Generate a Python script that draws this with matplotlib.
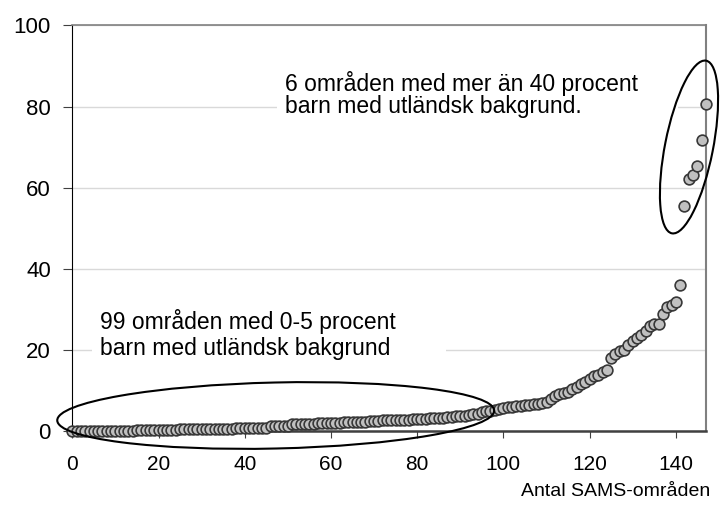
import numpy as np
import matplotlib
matplotlib.use('Agg')
from matplotlib import pyplot as plt
from matplotlib.patches import Ellipse, Rectangle
from matplotlib.transforms import IdentityTransform

# Andel barn med utländsk bakgrund per SAMS-område, sorterat stigande
low_areas = [0.0] * 15 + \
    [0.1, 0.1, 0.1, 0.1, 0.2, 0.2, 0.2, 0.2, 0.2, 0.2, 0.3, 0.3, 0.3, 0.3, 0.3, 0.3] + \
    [0.3, 0.4, 0.4, 0.4, 0.4, 0.4, 0.4, 0.5, 0.5, 0.5, 0.5, 0.5, 0.5, 0.6, 0.6] + \
    [1.0, 1.0, 1.1, 1.1, 1.1] + \
    [1.6, 1.6, 1.7, 1.7, 1.7, 1.7, 1.8, 1.8, 1.8, 1.8, 1.9, 1.9] + \
    [2.1, 2.1, 2.1, 2.2, 2.2, 2.2] + \
    [2.4, 2.4, 2.4, 2.5, 2.5, 2.5, 2.5, 2.6, 2.6, 2.6] + \
    [2.8, 2.8, 2.9, 2.9, 3.0, 3.0] + \
    [3.2, 3.2, 3.3, 3.4, 3.5, 3.5] + \
    [3.7, 3.9, 4.0, 4.2] + \
    [4.5, 4.7, 4.9, 5.0]
mid_areas = [5.4, 5.6, 5.8, 5.9, 6.0, 6.1, 6.2, 6.4, 6.5, 6.6, 6.8, 7.0, 7.8,
             8.5, 8.9, 9.3, 9.5, 10.3, 10.8, 11.5, 12.0, 12.8, 13.4, 13.8, 14.4, 14.9,
             18.0, 18.8, 19.6, 19.8, 21.2, 22.0, 22.9, 23.7, 24.5, 25.8, 26.2, 26.3,
             28.8, 30.5, 31.1, 31.7, 36.0]
high_areas = [55.4, 62.0, 63.2, 65.3, 71.7, 80.7]

values = low_areas + mid_areas + high_areas
area_index = np.arange(len(values))

x_ticks = [0, 20, 40, 60, 80, 100, 120, 140]
y_ticks = [0, 20, 40, 60, 80, 100]

text_high = ['6 områden med mer än 40 procent', 'barn med utländsk bakgrund.']
text_low = ['99 områden med 0-5 procent', 'barn med utländsk bakgrund']
x_label = 'Antal SAMS-områden'

plt.rcParams['font.family'] = ['Liberation Sans', 'DejaVu Sans']

fig = plt.figure(figsize=(7.28, 5.11), dpi=100)
ax = fig.add_axes([0.0993, 0.1575, 0.8705, 0.7926])

ax.set_xlim(0, 147)
ax.set_ylim(0, 100)
ax.set_xticks(x_ticks)
ax.set_yticks(y_ticks)
ax.tick_params(axis='y', direction='out', length=6.5, width=0.8, pad=9, labelsize=16, color='#404040')
ax.tick_params(axis='x', direction='out', length=5, width=0.8, pad=12.5, labelsize=15, color='#404040')

ax.yaxis.grid(True, color='#d9d9d9', linewidth=1.0, zorder=0)
ax.set_axisbelow(True)

ax.spines['left'].set_color('black')
ax.spines['left'].set_linewidth(0.8)
ax.spines['bottom'].set_color('#404040')
ax.spines['bottom'].set_linewidth(1.8)
ax.spines['top'].set_color('#808080')
ax.spines['top'].set_linewidth(1.2)
ax.spines['right'].set_color('#808080')
ax.spines['right'].set_linewidth(1.5)

# white text boxes hide the grid behind the annotations
ax.add_patch(Rectangle((0.323, 0.774), 0.633, 0.116, transform=ax.transAxes,
                       facecolor='white', edgecolor='none', zorder=1.5))
ax.add_patch(Rectangle((0.031, 0.169), 0.559, 0.133, transform=ax.transAxes,
                       facecolor='white', edgecolor='none', zorder=1.5))

ax.scatter(area_index, values, s=60, facecolor='#c0c0c0', edgecolor='#383838',
           linewidth=1.2, zorder=4, clip_on=False)

ax.text(0.3357, 0.839, text_high[0], transform=ax.transAxes, fontsize=16.5, va='baseline', zorder=3)
ax.text(0.3357, 0.785, text_high[1], transform=ax.transAxes, fontsize=16.5, va='baseline', zorder=3)
ax.text(0.0437, 0.250, text_low[0], transform=ax.transAxes, fontsize=16.5, va='baseline', zorder=3)
ax.text(0.0437, 0.186, text_low[1], transform=ax.transAxes, fontsize=16.5, va='baseline', zorder=3)

fig.text(0.975, 0.030, x_label, fontsize=14, ha='right', va='baseline')

# ellipses around the groups, drawn in pixel space
fig.add_artist(Ellipse((275.7, 511 - 415.5), 437, 66, angle=1.3, transform=IdentityTransform(),
                       facecolor='none', edgecolor='black', linewidth=1.5, zorder=5))
fig.add_artist(Ellipse((689, 511 - 147), 176, 48, angle=78.8, transform=IdentityTransform(),
                       facecolor='none', edgecolor='black', linewidth=1.5, zorder=5))

fig.savefig('out.png', dpi=100)
